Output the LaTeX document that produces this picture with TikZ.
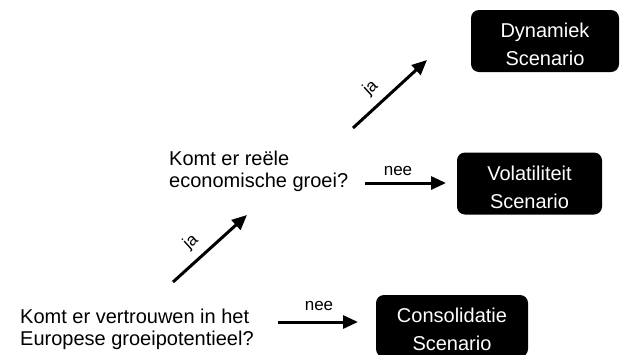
\documentclass[tikz,border=0pt]{standalone}
\usepackage{fontspec}
\setmainfont{Liberation Sans}
\usetikzlibrary{arrows.meta}
\begin{document}
\begin{tikzpicture}[x=1pt,y=-1pt,
  question/.style={anchor=north west, inner sep=0pt, align=left,
    font=\fontsize{20}{22}\selectfont},
  scenario/.style={fill=black, rounded corners=8pt, text=white, align=center,
    minimum height=62pt, inner sep=0pt, font=\fontsize{20}{28}\selectfont},
  flow/.style={line width=3pt, -{Triangle[length=15pt,width=13pt]}},
  answer/.style={font=\fontsize{17}{20}\selectfont, inner sep=1pt}]
\useasboundingbox (0,0) rectangle (621,354);

% questions
\node[question] (q1) at (20,309) {Komt er vertrouwen in het\\Europese groeipotentieel?};
\node[question] (q2) at (169,150.7) {Komt er re\"ele\\economische groei?};

% scenario boxes
\node[scenario, minimum width=148pt] (dyn) at (545,41)
  {\rule{0pt}{21.4pt}Dynamiek\\Scenario};
\node[scenario, minimum width=145pt] (vol) at (529.5,183.5)
  {\rule{0pt}{21.4pt}Volatiliteit\\Scenario};
\node[scenario, minimum width=152pt] (con) at (452,326)
  {\rule{0pt}{21.4pt}Consolidatie\\Scenario};

% arrow end points
\coordinate (ja1s) at (173,282);
\coordinate (ja1e) at (247,215);
\coordinate (ja2s) at (353,128);
\coordinate (ja2e) at (427,60);
\coordinate (nee1s) at (278,322);
\coordinate (nee1e) at (358,322);
\coordinate (nee2s) at (365,183);
\coordinate (nee2e) at (446,183);

% decisions
\draw[flow] (ja1s) -- node[answer, pos=0.4, sloped, above=7pt] (ja1) {ja} (ja1e);
\draw[flow] (ja2s) -- node[answer, pos=0.4, sloped, above=7pt] (ja2) {ja} (ja2e);
\draw[flow] (nee1s) -- (nee1e);
\draw[flow] (nee2s) -- (nee2e);
\node[answer, anchor=base] (nee1) at (319,310) {nee};
\node[answer, anchor=base] (nee2) at (398,175) {nee};
\end{tikzpicture}
\end{document}
